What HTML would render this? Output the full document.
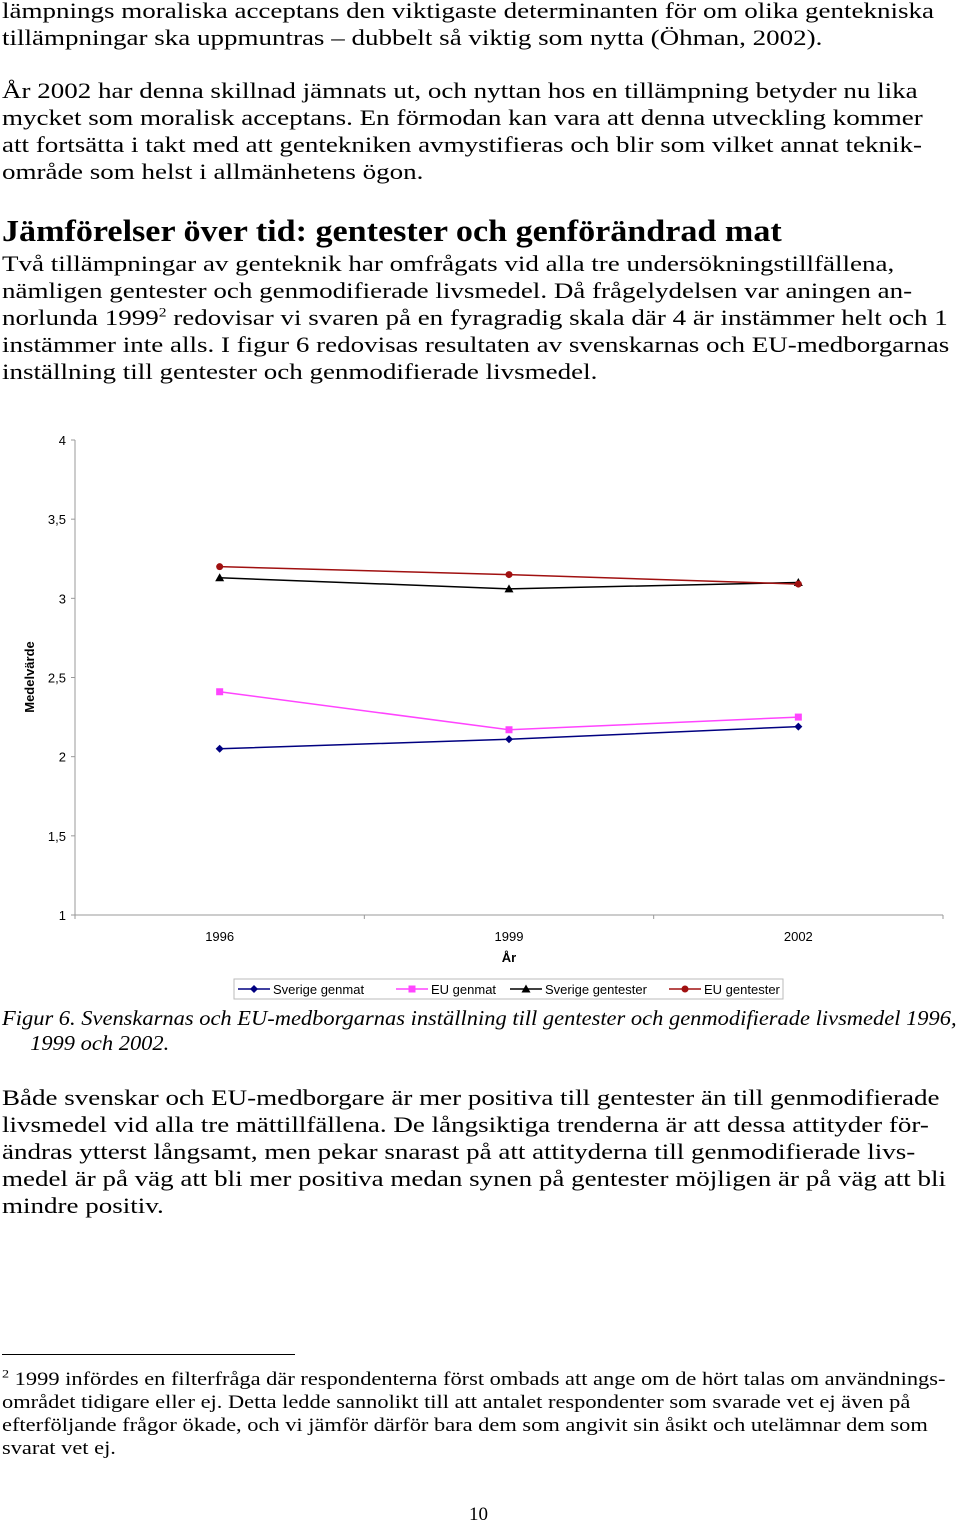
<!DOCTYPE html>
<html><head><meta charset="utf-8"><style>
body{margin:0;width:960px;height:1523px;background:#fff;position:relative;overflow:hidden;font-family:"Liberation Serif",serif;color:#000}
.p{position:absolute;left:2px;font-size:22.5px;line-height:27px;margin:0;white-space:nowrap;transform-origin:0 0}
.w{transform:scaleX(1.2)}
sup{line-height:0}
h2{position:absolute;left:2px;top:212px;margin:0;font-size:31px;font-weight:bold;line-height:38px;white-space:nowrap;transform-origin:0 0;transform:scaleX(1.1)}
svg text{font-family:"Liberation Sans",sans-serif}
</style></head><body>
<div class="p w" style="top:-3px">lämpnings moraliska acceptans den viktigaste determinanten för om olika gentekniska<br>tillämpningar ska uppmuntras – dubbelt så viktig som nytta (Öhman, 2002).</div>
<div class="p w" style="top:77px">År 2002 har denna skillnad jämnats ut, och nyttan hos en tillämpning betyder nu lika<br>mycket som moralisk acceptans. En förmodan kan vara att denna utveckling kommer<br>att fortsätta i takt med att gentekniken avmystifieras och blir som vilket annat teknik-<br>område som helst i allmänhetens ögon.</div>
<h2>Jämförelser över tid: gentester och genförändrad mat</h2>
<div class="p w" style="top:250px">Två tillämpningar av genteknik har omfrågats vid alla tre undersökningstillfällena,<br>nämligen gentester och genmodifierade livsmedel. Då frågelydelsen var aningen an-<br>norlunda 1999<sup style="font-size:13px">2</sup> redovisar vi svaren på en fyragradig skala där 4 är instämmer helt och 1<br>instämmer inte alls. I figur 6 redovisas resultaten av svenskarnas och EU-medborgarnas<br>inställning till gentester och genmodifierade livsmedel.</div>

<svg width="960" height="1010" style="position:absolute;left:0;top:0">
<g id="axes"></g><g id="series"></g>
<text x="34" y="677" transform="rotate(-90 34 677)" text-anchor="middle" font-size="13" font-weight="bold">Medelvärde</text>
<text x="509" y="962" text-anchor="middle" font-size="13" font-weight="bold">År</text>
<rect x="234" y="979" width="549" height="20" fill="#fff" stroke="#bbb"/>
<g id="legend"></g>
</svg>
<script>
const categories=["1996","1999","2002"];
const yTicks=[1,1.5,2,2.5,3,3.5,4];
const yTickLabels=["1","1,5","2","2,5","3","3,5","4"];
const seriesNames=["Sverige genmat","EU genmat","Sverige gentester","EU gentester"];
const sverigeGenmat=[2.05,2.11,2.19];
const euGenmat=[2.41,2.17,2.25];
const sverigeGentester=[3.13,3.06,3.10];
const euGentester=[3.20,3.15,3.09];
const seriesValues=[sverigeGenmat,euGenmat,sverigeGentester,euGentester];
const colors=["#000080","#ff44ff","#000000","#a01010"];
const markers=["diamond","square","triangle","circle"];
const NS="http://www.w3.org/2000/svg";
const x0=75,x1=943,yB=915,yT=440;
const y=v=>yB-(v-1)/3*(yB-yT);
const x=i=>x0+(i+0.5)*(x1-x0)/categories.length;
function mk(t,a,p){const e=document.createElementNS(NS,t);for(const k in a)e.setAttribute(k,a[k]);p.appendChild(e);return e;}
const axes=document.getElementById('axes');
let l=mk('line',{x1:x0,y1:yT,x2:x0,y2:yB,stroke:'#999'},axes);


l=mk('line',{x1:x0,y1:yB,x2:x1,y2:yB,stroke:'#999'},axes);


yTicks.forEach((v,i)=>{mk('line',{x1:x0-4,y1:y(v),x2:x0,y2:y(v),stroke:'#999'},axes);
const t=mk('text',{x:x0-9,y:y(v)+5,'text-anchor':'end','font-size':13},axes);t.textContent=yTickLabels[i];

});
for(let i=0;i<=categories.length;i++){const xx=x0+i*(x1-x0)/categories.length;mk('line',{x1:xx,y1:yB,x2:xx,y2:yB+4,stroke:'#999'},axes);}
categories.forEach((c,i)=>{const t=mk('text',{x:x(i),y:yB+26,'text-anchor':'middle','font-size':13},axes);t.textContent=c;

});
function marker(type,cx,cy,col,p){
 if(type==='diamond')return mk('polygon',{points:`${cx},${cy-4} ${cx+4},${cy} ${cx},${cy+4} ${cx-4},${cy}`,fill:col},p);
 if(type==='square')return mk('rect',{x:cx-3.5,y:cy-3.5,width:7,height:7,fill:col},p);
 if(type==='triangle')return mk('polygon',{points:`${cx},${cy-4.5} ${cx+4.5},${cy+3.5} ${cx-4.5},${cy+3.5}`,fill:col},p);
 return mk('circle',{cx:cx,cy:cy,r:3.5,fill:col},p);}
const sg=document.getElementById('series');
seriesValues.forEach((vals,s)=>{
 const pl=mk('polyline',{points:vals.map((v,i)=>x(i)+','+y(v)).join(' '),fill:'none',stroke:colors[s],'stroke-width':1.5},sg);
 
 
 vals.forEach((v,i)=>{const m=marker(markers[s],x(i),y(v),colors[s],sg);
 
 });
});
const lg=document.getElementById('legend');
const lx=[238,396,510,669];
seriesNames.forEach((n,s)=>{
 mk('line',{x1:lx[s],y1:989,x2:lx[s]+32,y2:989,stroke:colors[s],'stroke-width':1.5},lg);
 marker(markers[s],lx[s]+16,989,colors[s],lg);
 const t=mk('text',{x:lx[s]+35,y:994,'font-size':13},lg);t.textContent=n;
 
 
});
</script>
<div class="p" style="top:1006px;font-style:italic;font-size:21px;line-height:25px;transform:scaleX(1.07)">Figur 6. Svenskarnas och EU-medborgarnas inställning till gentester och genmodifierade livsmedel 1996,<br>&nbsp;&nbsp;&nbsp;&nbsp;&nbsp;1999 och 2002.</div>
<div class="p w" style="top:1084px">Både svenskar och EU-medborgare är mer positiva till gentester än till genmodifierade<br>livsmedel vid alla tre mättillfällena. De långsiktiga trenderna är att dessa attityder för-<br>ändras ytterst långsamt, men pekar snarast på att attityderna till genmodifierade livs-<br>medel är på väg att bli mer positiva medan synen på gentester möjligen är på väg att bli<br>mindre positiv.</div>
<div style="position:absolute;left:2px;top:1354px;width:293px;border-top:1px solid #000"></div>
<div class="p" style="top:1368px;font-size:19px;line-height:23px;transform:scaleX(1.18)"><sup style="font-size:12px">2</sup> 1999 infördes en filterfråga där respondenterna först ombads att ange om de hört talas om användnings-<br>området tidigare eller ej. Detta ledde sannolikt till att antalet respondenter som svarade vet ej även på<br>efterföljande frågor ökade, och vi jämför därför bara dem som angivit sin åsikt och utelämnar dem som<br>svarat vet ej.</div>
<div class="p" style="top:1503px;left:469px;font-size:19px;line-height:23px">10</div>
</body></html>
